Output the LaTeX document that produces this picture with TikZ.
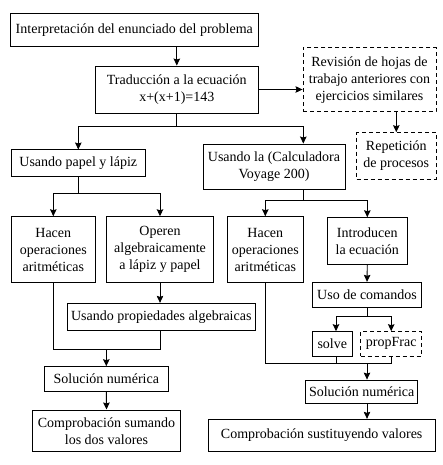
\documentclass[tikz,border=0pt]{standalone}
\usepackage{fontspec}
\setmainfont{Liberation Serif}
\usetikzlibrary{arrows.meta}
\tikzset{
  box/.style={draw, line width=0.9pt, align=center, inner sep=1pt,
    font=\fontsize{14}{17}\selectfont},
  dbox/.style={box, dashed, dash pattern=on 4pt off 3pt},
  arr/.style={-{Stealth[length=7pt,width=6.5pt,inset=1pt]}},
  conn/.style={line width=0.9pt},
}
\begin{document}
\begin{tikzpicture}[x=1pt,y=-1pt]
        \useasboundingbox (0,0) rectangle (443,465);
        % top row
        \node [box, minimum width=247.3pt, minimum height=32.7pt] (interp) at (134.3,29.7) {Interpretación del enunciado del problema};
        \node [box, minimum width=162.3pt, minimum height=47pt] (trad) at (176.8,89.5) {Traducción a la ecuación\\x+(x+1)=143};
        \node [dbox, minimum width=133pt, minimum height=64.3pt] (revis) at (369.5,79.8) {Revisión de hojas de\\trabajo anteriores con\\ejercicios similares};
        \node [dbox, minimum width=79.3pt, minimum height=46.3pt] (repet) at (396.3,155.8) {Repetición\\de procesos};
        \node [box, minimum width=134.7pt, minimum height=26.7pt] (papel) at (78.3,163.3) {Usando papel y lápiz};
        \node [box, minimum width=142pt, minimum height=45pt] (calc) at (274,166.5) {Usando la (Calculadora\\Voyage 200)};
        % left branch
        \node [box, minimum width=84.7pt, minimum height=65.6pt] (hacenA) at (53.3,249.5) {Hacen\\operaciones\\aritméticas};
        \node [box, minimum width=106.6pt, minimum height=65.6pt] (operen) at (160,249.5) {Operen\\algebraicamente\\a lápiz y papel};
        \node [box, minimum width=187.3pt, minimum height=27.4pt] (propied) at (161.3,317) {Usando propiedades algebraicas};
        \node [box, minimum width=124pt, minimum height=24.3pt] (solA) at (106.3,378.8) {Solución numérica};
        \node [box, minimum width=148.4pt, minimum height=41.7pt] (compA) at (106.5,430.8) {Comprobación sumando\\los dos valores};
        % right branch
        \node [box, minimum width=76pt, minimum height=65.6pt] (hacenB) at (265.3,249.5) {Hacen\\operaciones\\aritméticas};
        \node [box, minimum width=80pt, minimum height=46.6pt] (intro) at (367.3,241) {Introducen\\la ecuación};
        \node [box, minimum width=109.4pt, minimum height=25.4pt] (comandos) at (367,295) {Uso de comandos};
        \node [box, minimum width=40pt, minimum height=24.3pt] (solve) at (332.3,343.8) {solve};
        \node [dbox, minimum width=61pt, minimum height=24.3pt] (propfrac) at (391.2,343.8) {propFrac};
        \node [box, minimum width=112pt, minimum height=23.3pt] (solB) at (361.7,391.7) {Solución numérica};
        \node [box, minimum width=226.7pt, minimum height=32.4pt] (compB) at (321.7,435.5) {Comprobación sustituyendo valores};

        \begin{scope}[conn]
        \draw [arr] (trad.north |- interp.south) -- (trad.north);
        \draw [arr] (trad.east) -- (trad.east -| revis.west);
        \draw [arr] (repet.north |- revis.south) -- (repet.north);
        \draw [arr] (trad.south) -- ++(0,13) -| (papel.north);
        \draw [arr] (trad.south) -- ++(0,13) -| ([xshift=29.3pt]calc.north);
        \draw [arr] (papel.south) -- ++(0,16.6) -| (hacenA.north);
        \draw [arr] (papel.south) -- ++(0,16.6) -| (operen.north);
        \draw [arr] ([xshift=29.3pt]calc.south) -- ++(0,11) -| (hacenB.north);
        \draw [arr] ([xshift=29.3pt]calc.south) -- ++(0,11) -| (intro.north);
        \draw [arr] (intro.south) -- (comandos.north);
        \draw [arr] (operen.south) -- (operen.south |- propied.north);
        \draw (hacenA.south) -- ++(0,67) coordinate (jA) -| (operen.south |- propied.south);
        \draw [arr] (jA -| solA.north) -- (solA.north);
        \draw [arr] (solA.south) -- (compA.north);
        \draw [arr] (comandos.south) -- ++(0,8) -| ([xshift=3.7pt]solve.north);
        \draw [arr] (comandos.south) -- ++(0,8) -| (propfrac.north);
        \draw (hacenB.south) -- ++(0,81) coordinate (jB) -| (propfrac.south);
        \draw ([xshift=3.7pt]solve.south) -- ([xshift=3.7pt]solve.south |- jB);
        \draw [arr] (comandos.south |- jB) -- (comandos.south |- solB.north);
        \draw [arr] (comandos.south |- solB.south) -- (comandos.south |- compB.north);
        \end{scope}
\end{tikzpicture}
\end{document}
